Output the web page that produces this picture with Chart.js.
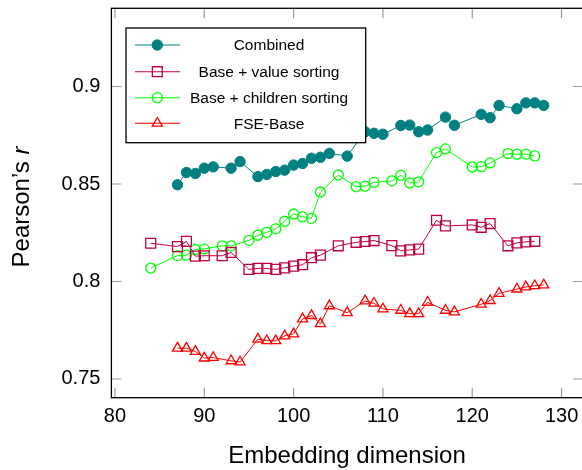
<!DOCTYPE html>
<html>
<head>
<meta charset="utf-8">
<script src="https://cdn.jsdelivr.net/npm/chart.js@4.4.0/dist/chart.umd.min.js"></script>
<style>
  html, body { margin: 0; padding: 0; background: #fff; overflow: hidden; }
  #wrap { width: 582px; height: 470px; overflow: hidden; }
</style>
</head>
<body>
<div id="wrap"><canvas id="chart" width="600" height="470"></canvas></div>
<script>
// Embedding dimensions (two different sampling sets)
const dimsA = [87, 88, 89, 90, 91, 93, 94, 96, 97, 98, 99, 100, 101, 102, 103, 104, 106, 108, 109, 110, 112, 113, 114, 115, 117, 118, 121, 122, 123, 125, 126, 127, 128];
const dimsB = [84, 87, 88, 89, 90, 92, 93, 95, 96, 97, 98, 99, 100, 101, 102, 103, 105, 107, 108, 109, 111, 112, 113, 114, 116, 117, 120, 121, 122, 124, 125, 126, 127];

// Pearson's r per series
const combined = [0.8496, 0.8559, 0.8554, 0.8581, 0.8588, 0.8581, 0.8615, 0.8538, 0.8549, 0.8564, 0.8571, 0.8597, 0.8605, 0.8632, 0.8637, 0.8657, 0.8643, 0.8768, 0.8760, 0.8755, 0.8800, 0.8802, 0.8768, 0.8777, 0.8843, 0.8801, 0.8857, 0.8840, 0.8903, 0.8886, 0.8916, 0.8916, 0.8903];
const valueSorting = [0.8196, 0.8179, 0.8206, 0.8130, 0.8132, 0.8132, 0.8149, 0.8062, 0.8067, 0.8067, 0.8062, 0.8070, 0.8079, 0.8086, 0.8122, 0.8135, 0.8183, 0.8201, 0.8205, 0.8210, 0.8184, 0.8157, 0.8162, 0.8166, 0.8314, 0.8285, 0.8290, 0.8278, 0.8297, 0.8183, 0.8198, 0.8203, 0.8206];
const childrenSorting = [0.8069, 0.8133, 0.8135, 0.8164, 0.8167, 0.8183, 0.8183, 0.8211, 0.8237, 0.8252, 0.8270, 0.8309, 0.8346, 0.8331, 0.8324, 0.8459, 0.8546, 0.8486, 0.8489, 0.8508, 0.8516, 0.8545, 0.8505, 0.8511, 0.8661, 0.8680, 0.8587, 0.8589, 0.8608, 0.8656, 0.8653, 0.8653, 0.8644];
const fseBase = [0.7658, 0.7658, 0.7641, 0.7607, 0.7610, 0.7593, 0.7587, 0.7704, 0.7696, 0.7696, 0.7721, 0.7731, 0.7808, 0.7825, 0.7783, 0.7875, 0.7840, 0.7900, 0.7888, 0.7859, 0.7852, 0.7835, 0.7835, 0.7893, 0.7852, 0.7844, 0.7883, 0.7902, 0.7939, 0.7961, 0.7972, 0.7978, 0.7982];

const xTicks = [80, 90, 100, 110, 120, 130];
const yTicks = [0.75, 0.8, 0.85, 0.9];

const FONT = "'Liberation Sans', Arial, sans-serif";

function points(xs, ys) {
    return xs.map((x, i) => ({ x: x, y: ys[i] }));
}

// Frame, inward ticks, axis titles and the boxed legend
const decorations = {
    id: 'decorations',
    afterDraw(chart) {
        const ctx = chart.ctx;
        const a = chart.chartArea;
        const xs = chart.scales.x;
        const ys = chart.scales.y;
        ctx.save();

        // inward ticks on all four sides
        ctx.strokeStyle = '#9a9a9a';
        ctx.lineWidth = 1.2;
        ctx.beginPath();
        xTicks.forEach(v => {
            const px = xs.getPixelForValue(v);
            ctx.moveTo(px, a.bottom); ctx.lineTo(px, a.bottom - 10);
            ctx.moveTo(px, a.top); ctx.lineTo(px, a.top + 10);
        });
        yTicks.forEach(v => {
            const py = ys.getPixelForValue(v);
            ctx.moveTo(a.left, py); ctx.lineTo(a.left + 10, py);
            ctx.moveTo(a.right, py); ctx.lineTo(a.right - 10, py);
        });
        ctx.stroke();

        // frame
        ctx.strokeStyle = '#000';
        ctx.lineWidth = 1.3;
        ctx.strokeRect(a.left, a.top, a.right - a.left, a.bottom - a.top);

        // x title
        ctx.fillStyle = '#000';
        ctx.font = '24px ' + FONT;
        ctx.textAlign = 'center';
        ctx.textBaseline = 'alphabetic';
        ctx.fillText('Embedding dimension', 347, 463);

        // y title: Pearson's r (r italic)
        ctx.save();
        ctx.translate(29, 207);
        ctx.rotate(-Math.PI / 2);
        const part1 = "Pearson\u2019s ";
        ctx.font = '24px ' + FONT;
        const w1 = ctx.measureText(part1).width;
        ctx.font = 'italic 24px ' + FONT;
        const w2 = ctx.measureText('r').width;
        ctx.textAlign = 'left';
        ctx.font = '24px ' + FONT;
        ctx.fillText(part1, -(w1 + w2) / 2, 0);
        ctx.font = 'italic 24px ' + FONT;
        ctx.fillText('r', -(w1 + w2) / 2 + w1, 0);
        ctx.restore();

        // legend
        const box = { left: 126, top: 28, right: 365.7, bottom: 142.7 };
        ctx.fillStyle = '#fff';
        ctx.fillRect(box.left, box.top, box.right - box.left, box.bottom - box.top);
        ctx.strokeStyle = '#000';
        ctx.lineWidth = 1.3;
        ctx.strokeRect(box.left, box.top, box.right - box.left, box.bottom - box.top);

        const rows = [45, 71.7, 97.7, 123.3];
        chart.data.datasets.forEach((ds, i) => {
            const y = rows[i];
            ctx.strokeStyle = ds.borderColor;
            ctx.lineWidth = 1.1;
            ctx.beginPath();
            ctx.moveTo(135, y); ctx.lineTo(180, y);
            ctx.stroke();
            ctx.fillStyle = ds.pointBackgroundColor;
            ctx.strokeStyle = ds.pointBorderColor;
            ctx.lineWidth = ds.pointBorderWidth;
            Chart.helpers.drawPoint(ctx, {
                pointStyle: ds.pointStyle,
                radius: ds.pointRadius,
                borderWidth: ds.pointBorderWidth
            }, 157.3, y);
            ctx.fillStyle = '#000';
            ctx.font = '15.5px ' + FONT;
            ctx.textAlign = 'center';
            ctx.textBaseline = 'middle';
            ctx.fillText(ds.label, 269, y + 1);
        });
        ctx.restore();
    }
};

const ctx = document.getElementById('chart').getContext('2d');
const chart = new Chart(ctx, {
    type: 'line',
    data: {
        datasets: [
            {
                label: 'Combined',
                data: points(dimsA, combined),
                borderColor: 'rgb(0,128,128)',
                backgroundColor: 'rgb(0,128,128)',
                pointStyle: 'circle',
                pointRadius: 5.2,
                pointBackgroundColor: 'rgb(0,128,128)',
                pointBorderColor: 'rgb(0,128,128)',
                pointBorderWidth: 1,
                borderWidth: 1
            },
            {
                label: 'Base + value sorting',
                data: points(dimsB, valueSorting),
                borderColor: 'rgb(191,0,64)',
                backgroundColor: 'rgba(0,0,0,0)',
                pointStyle: 'rect',
                pointRadius: 7,
                pointBackgroundColor: 'rgba(0,0,0,0)',
                pointBorderColor: 'rgb(191,0,64)',
                pointBorderWidth: 1.3,
                borderWidth: 1
            },
            {
                label: 'Base + children sorting',
                data: points(dimsB, childrenSorting),
                borderColor: 'rgb(0,255,0)',
                backgroundColor: 'rgba(0,0,0,0)',
                pointStyle: 'circle',
                pointRadius: 5,
                pointBackgroundColor: 'rgba(0,0,0,0)',
                pointBorderColor: 'rgb(0,255,0)',
                pointBorderWidth: 1.3,
                borderWidth: 1
            },
            {
                label: 'FSE-Base',
                data: points(dimsA, fseBase),
                borderColor: 'rgb(255,0,0)',
                backgroundColor: 'rgba(0,0,0,0)',
                pointStyle: 'triangle',
                pointRadius: 5.8,
                pointBackgroundColor: 'rgba(0,0,0,0)',
                pointBorderColor: 'rgb(255,0,0)',
                pointBorderWidth: 1.3,
                borderWidth: 1
            }
        ]
    },
    options: {
        responsive: false,
        animation: false,
        devicePixelRatio: 1,
        layout: { padding: { left: 0, top: 6.7, right: 17, bottom: 0 } },
        plugins: {
            legend: { display: false },
            tooltip: { enabled: false }
        },
        elements: { line: { tension: 0 } },
        scales: {
            x: {
                type: 'linear',
                min: 79.6,
                max: 132.4,
                grid: { display: false, drawTicks: false },
                border: { display: false },
                afterBuildTicks: s => { s.ticks = xTicks.map(v => ({ value: v })); },
                afterFit: s => { s.height = 72.3; s.paddingLeft = 0; s.paddingRight = 0; },
                ticks: {
                    color: '#000',
                    padding: 7,
                    maxRotation: 0,
                    autoSkip: false,
                    font: { family: FONT, size: 20 }
                }
            },
            y: {
                min: 0.7404,
                max: 0.9401,
                grid: { display: false, drawTicks: false },
                border: { display: false },
                afterBuildTicks: s => { s.ticks = yTicks.map(v => ({ value: v })); },
                afterFit: s => { s.width = 111.4; s.paddingTop = 0; s.paddingBottom = 0; },
                ticks: {
                    color: '#000',
                    padding: 11,
                    autoSkip: false,
                    font: { family: FONT, size: 20 },
                    callback: v => String(v)
                }
            }
        }
    },
    plugins: [decorations]
});
</script>
</body>
</html>
